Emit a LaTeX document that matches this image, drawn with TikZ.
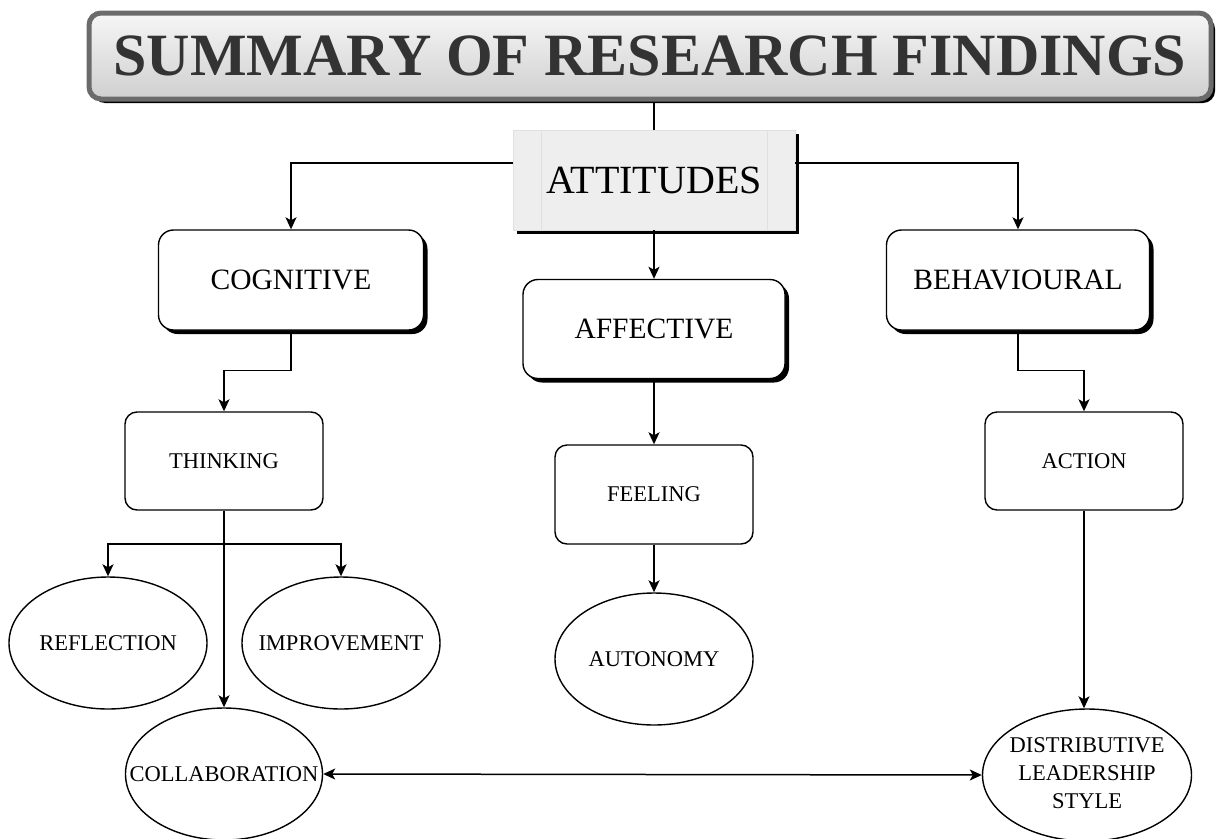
\documentclass[tikz,border=0pt]{standalone}
\usepackage{fontspec}
\setmainfont{Liberation Serif}
\usetikzlibrary{shadows,arrows.meta,calc,shapes.geometric}
\definecolor{titletxt}{HTML}{333333}
\definecolor{titleborder}{HTML}{6B6B6B}
\definecolor{titletop}{HTML}{F6F6F6}
\definecolor{titlebot}{HTML}{CFCFCF}
\definecolor{attfill}{HTML}{EEEEEE}
\definecolor{attline}{HTML}{E0E0E0}
\tikzset{
  conn/.style={line width=1.5pt, draw=black},
  arr/.style={conn, -{Stealth[length=12pt,width=11pt,inset=3pt]}},
  darr/.style={conn, {Stealth[length=12pt,width=11pt,inset=3pt]}-{Stealth[length=12pt,width=11pt,inset=3pt]}},
  blackshadow/.style={drop shadow={shadow xshift=4pt, shadow yshift=-4pt, fill=black, opacity=1}},
  bigbox/.style={draw=black, line width=1.4pt, fill=white, rounded corners=15pt, inner sep=0pt,
    blackshadow, font=\fontsize{29.5}{34}\selectfont},
  smallbox/.style={draw=black, line width=1.4pt, fill=white, rounded corners=12pt, inner sep=0pt,
    minimum width=198pt, minimum height=98pt, font=\fontsize{22.5}{27}\selectfont},
  oval/.style={draw=black, line width=1.4pt, ellipse, inner sep=0pt,
    minimum width=198pt, minimum height=132pt, font=\fontsize{22.5}{28}\selectfont},
}
\begin{document}
\begin{tikzpicture}[x=1pt,y=-1pt]
\useasboundingbox (0,0) rectangle (1218,838);
% title
\node[draw=titleborder, line width=5pt, rounded corners=12pt, top color=titletop, bottom color=titlebot,
  blackshadow, minimum width=1122pt, minimum height=86pt, inner sep=0pt,
  font=\fontsize{60}{66}\selectfont\bfseries, text=titletxt] (title) at (650,56) {SUMMARY OF RESEARCH FINDINGS};
% attitudes
\node[draw=attline, line width=0.8pt, fill=attfill, blackshadow, minimum width=282pt, minimum height=100pt,
  inner sep=0pt, font=\fontsize{40}{46}\selectfont] (att) at (654,180) {ATTITUDES};
\draw[attline, line width=0.8pt] ([xshift=29pt]att.north west) -- ([xshift=29pt]att.south west);
\draw[attline, line width=0.8pt] ([xshift=-28pt]att.north east) -- ([xshift=-28pt]att.south east);
% level 2
\node[bigbox, minimum width=265pt, minimum height=100pt] (cog) at (291,280) {COGNITIVE};
\node[bigbox, minimum width=262pt, minimum height=99pt] (aff) at (654,329) {AFFECTIVE};
\node[bigbox, minimum width=263pt, minimum height=100pt] (beh) at (1018,280) {BEHAVIOURAL};
% level 3
\node[smallbox] (think) at (224,461) {THINKING};
\node[smallbox, minimum height=99pt] (feel) at (654,494.5) {FEELING};
\node[smallbox] (act) at (1084,461) {ACTION};
% ellipses
\node[oval] (refl) at (108,643) {\makebox[0pt]{REFLECTION}};
\node[oval] (impr) at (341,643) {\makebox[0pt]{IMPROVEMENT}};
\node[oval] (auton) at (654,659) {\makebox[0pt]{AUTONOMY}};
\node[oval, minimum width=197pt] (coll) at (224,774) {\makebox[0pt]{COLLABORATION}};
\node[oval, minimum width=209pt] (dist) at (1087,775) {\makebox[0pt]{\begin{tabular}{@{}c@{}}DISTRIBUTIVE\\LEADERSHIP\\STYLE\end{tabular}}};
% connectors
\draw[conn] (att.north |- title.south) -- (att.north);
\draw[arr] ([yshift=17pt]att.west) -| (cog.north);
\draw[arr] ([yshift=17pt]att.east) -| (beh.north);
\draw[arr] (att.south) -- (aff.north);
\draw[arr] (cog.south) -- ++(0,40) -| (think.north);
\draw[arr] (beh.south) -- ++(0,40) -| (act.north);
\draw[arr] (aff.south) -- (feel.north);
\draw[arr] (feel.south) -- (auton.north);
\coordinate (br) at (224,544);
\draw[arr] (think.south) -- (coll.north);
\draw[arr] (br) -| (refl.north);
\draw[arr] (br) -| (impr.north);
\draw[arr] (act.south) -- (act.south |- dist.north);
\draw[darr] (coll.east) -- (dist.west);
\end{tikzpicture}
\end{document}
